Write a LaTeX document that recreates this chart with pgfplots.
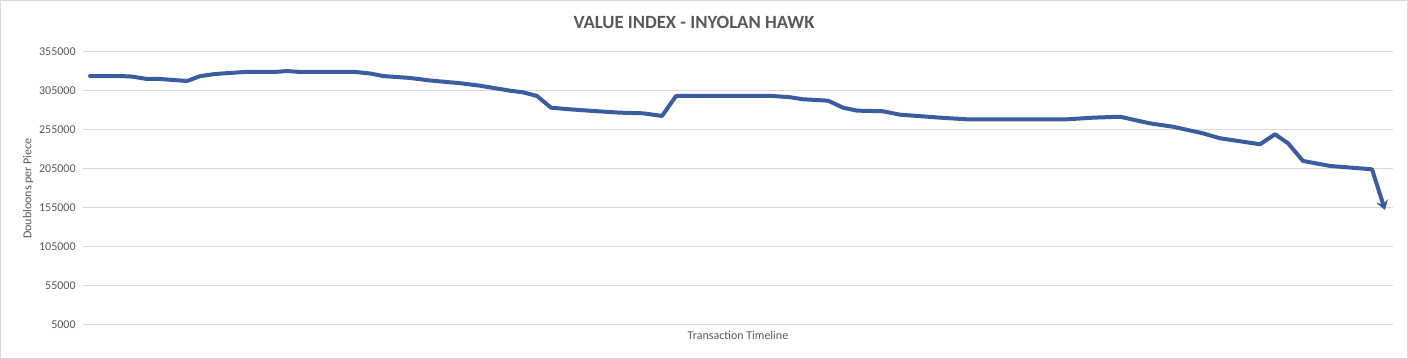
\documentclass[border=0pt]{standalone}
\usepackage{pgfplots}
\pgfplotsset{compat=1.18}
\usetikzlibrary{arrows.meta}
\usepackage{fontspec}
\setmainfont{Carlito}
\definecolor{txt}{HTML}{595959}
\definecolor{gridc}{HTML}{D9D9D9}
\definecolor{linec}{HTML}{3A5DA0}
\begin{document}
\begin{tikzpicture}
\useasboundingbox (0pt,0pt) rectangle (1056pt,269.25pt);
\draw[gridc, line width=0.75pt] (0.375pt,0.375pt) rectangle (1055.6pt,268.9pt);
\node[text=txt, font=\fontsize{14}{16}\selectfont\bfseries] at (520.5pt,252.75pt) {VALUE INDEX - INYOLAN HAWK};
\begin{axis}[
  at={(62.25pt,25.5pt)}, anchor=south west,
  scale only axis, width=982.5pt, height=204.75pt,
  xmin=83, xmax=1393, ymin=5000, ymax=355000,
  axis line style={draw=none},
  xtick=\empty,
  ytick={5000,55000,105000,155000,205000,255000,305000,355000},
  scaled y ticks=false,
  ymajorgrids, grid style={gridc, line width=0.75pt},
  major tick length=0pt,
  tick label style={text=txt, font=\fontsize{9}{10}\selectfont},
  /pgf/number format/assume math mode=true,
  yticklabel={\pgfmathprintnumber[fixed,set thousands separator={}]{\tick}},
  yticklabel style={xshift=-2pt},
  ylabel={Doubloons per Piece},
  ylabel style={text=txt, font=\fontsize{9}{10}\selectfont, yshift=-2.5pt},
  xlabel={Transaction Timeline},
  xlabel style={text=txt, font=\fontsize{9}{10}\selectfont, yshift=-1pt},
  clip=false,
]
\addplot[linec, line width=3pt, line join=round, line cap=round, -{Stealth[length=7pt,width=9pt]}] coordinates {
(90,324200) (120,324200) (132,323500) (147,320400) (160,320400) (187,317800)
(200,324000) (215,326800) (245,329400) (275,329400) (287,330600) (300,329400)
(355,329400) (370,327500) (383,324200) (410,321700) (430,318500) (460,315000)
(480,311800) (510,305400) (523,303300) (537,298600) (551,283600) (570,281500)
(593,279400) (620,277200) (643,276400) (662,273000) (676,298600) (773,298600)
(790,297000) (803,294400) (828,292600) (843,283600) (857,279800) (883,279000)
(900,274600) (930,271800) (940,270800) (967,268700) (1067,268700) (1093,270800)
(1120,272000) (1150,263500) (1173,259200) (1203,250700) (1220,244400) (1260,236700)
(1275,249500) (1288,238000) (1303,215300) (1330,208900) (1372,204600) (1385,152400)
};
\end{axis}
\end{tikzpicture}
\end{document}
